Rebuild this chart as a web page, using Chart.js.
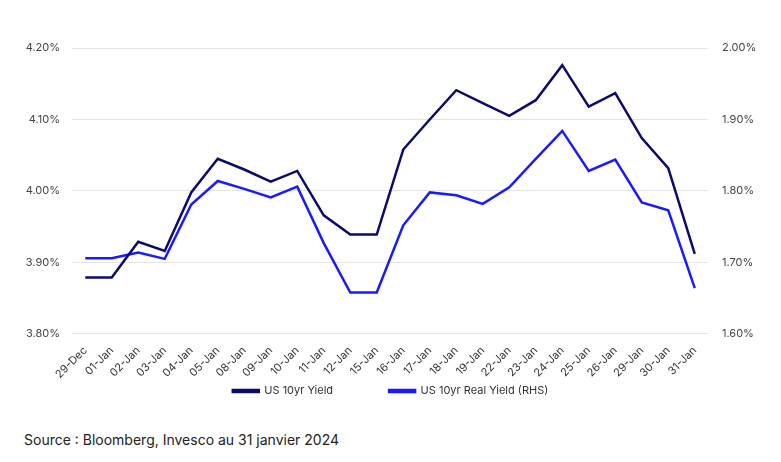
<!DOCTYPE html>
<html>
<head>
<meta charset="utf-8">
<script src="https://cdn.jsdelivr.net/npm/chart.js@4/dist/chart.umd.min.js"></script>
<style>
  html, body { margin: 0; padding: 0; background: #fff; }
  #wrap { position: relative; width: 781px; height: 462px; }
  #chartBox { position: absolute; left: 0; top: 0; width: 781px; height: 420px; }
  #source { position: absolute; left: 24px; top: 431px; font-family: Inter, "Open Sans", sans-serif; font-size: 14px; color: #222; }
</style>
</head>
<body>
<div id="wrap">
  <div id="chartBox"><canvas id="c"></canvas></div>
  <div id="source">Source : Bloomberg, Invesco au 31 janvier 2024</div>
</div>
<script>
const categories = ["29-Dec","01-Jan","02-Jan","03-Jan","04-Jan","05-Jan","08-Jan","09-Jan","10-Jan","11-Jan","12-Jan","15-Jan","16-Jan","17-Jan","18-Jan","19-Jan","22-Jan","23-Jan","24-Jan","25-Jan","26-Jan","29-Jan","30-Jan","31-Jan"];
const us10yYield = [3.879,3.879,3.929,3.916,3.998,4.045,4.030,4.013,4.028,3.966,3.939,3.939,4.058,4.100,4.141,4.123,4.105,4.127,4.176,4.118,4.137,4.074,4.032,3.912];
const us10yRealYield = [1.706,1.706,1.714,1.705,1.781,1.814,1.803,1.791,1.806,1.727,1.658,1.658,1.752,1.798,1.794,1.782,1.805,1.845,1.884,1.828,1.844,1.784,1.773,1.664];
const leftTicks = [3.80,3.90,4.00,4.10,4.20];
const rightTicks = [1.60,1.70,1.80,1.90,2.00];

const FONT = "Inter, 'Open Sans', sans-serif";
const LEGEND_PAD = 56;
const legendPlacer = {
  id: 'legendPlacer',
  beforeLayout(chart) {
    const lg = chart.legend;
    if (lg && !lg._patched) {
      const orig = lg.fit.bind(lg);
      lg.fit = function () { orig(); this.height = 37; };
      lg._patched = true;
    }
  },
  afterLayout(chart) {
    const lg = chart.legend;
    if (lg) {
      lg.top = 391 - LEGEND_PAD - 5.5;
      lg.bottom = chart.height;
    }
  }
};

new Chart(document.getElementById('c'), {
  type: 'line',
  data: {
    labels: categories,
    datasets: [
      { label: 'US 10yr Yield', data: us10yYield, yAxisID: 'y', borderColor: '#0b0b6b', backgroundColor: '#0b0b6b', borderWidth: 2.5, pointRadius: 0, tension: 0 },
      { label: 'US 10yr Real Yield (RHS)', data: us10yRealYield, yAxisID: 'y1', borderColor: '#1a1aff', backgroundColor: '#1a1aff', borderWidth: 2.5, pointRadius: 0, tension: 0 }
    ]
  },
  plugins: [legendPlacer],
  options: {
    responsive: true,
    maintainAspectRatio: false,
    animation: false,
    layout: { padding: { top: 48, left: 0, right: 0, bottom: 0 } },
    plugins: {
      tooltip: { enabled: false },
      legend: {
        position: 'bottom',
        labels: { boxWidth: 26, boxHeight: 2, padding: LEGEND_PAD, color: '#333', font: { family: FONT, size: 11 } }
      }
    },
    scales: {
      x: {
        offset: true,
        grid: { display: false },
        border: { display: false },
        ticks: { minRotation: 45, maxRotation: 45, color: '#333', font: { family: FONT, size: 11 }, autoSkip: false, padding: 2 }
      },
      y: {
        position: 'left',
        min: 3.80, max: 4.20,
        afterBuildTicks: s => { s.ticks = leftTicks.map(v => ({ value: v })); },
        afterFit: s => { s.width = 72; },
        grid: { color: '#e3e3e3', lineWidth: 1, drawTicks: false },
        border: { display: false },
        ticks: { padding: 12, color: '#444', font: { family: FONT, size: 11 }, callback: v => v.toFixed(2) + '%' }
      },
      y1: {
        position: 'right',
        min: 1.60, max: 2.00,
        afterBuildTicks: s => { s.ticks = rightTicks.map(v => ({ value: v })); },
        afterFit: s => { s.width = 73; },
        grid: { display: false, drawTicks: false },
        border: { display: false },
        ticks: { padding: 14, color: '#444', font: { family: FONT, size: 11 }, callback: v => v.toFixed(2) + '%' }
      }
    }
  }
});
</script>
</body>
</html>
